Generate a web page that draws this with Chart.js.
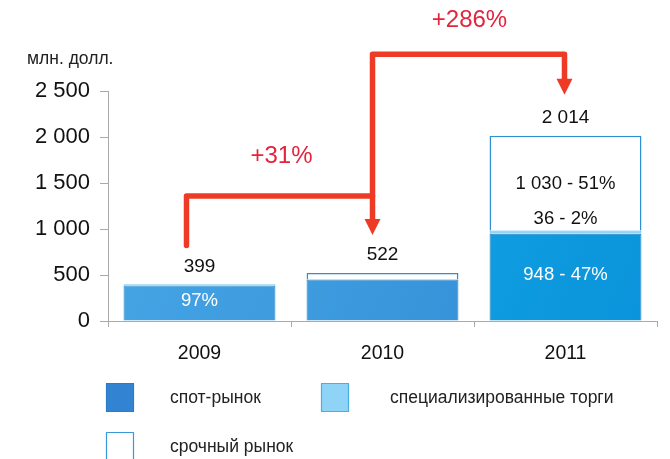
<!DOCTYPE html>
<html>
<head>
<meta charset="utf-8">
<script src="https://cdn.jsdelivr.net/npm/chart.js@4"></script>
<style>
  body { margin: 0; background: #fff; }
  #wrap { width: 670px; height: 459px; position: relative; }
</style>
</head>
<body>
<div id="wrap"><canvas id="chart" width="670" height="459"></canvas></div>
<script>
const years = ["2009", "2010", "2011"];
const spot = [387, 450, 948];
const specialized = [12, 0, 36];
const futures = [0, 72, 1030];
const totals = [399, 522, 2014];
const spotLabels = ["97%", "", "948 - 47%"];
const specLabels = ["", "", "36 - 2%"];
const futLabels = ["", "", "1 030 - 51%"];
const growth = ["+31%", "+286%"];
const yTicks = [0, 500, 1000, 1500, 2000, 2500];
const seriesNames = ["спот-рынок", "специализированные торги", "срочный рынок"];

const font = "'Liberation Sans', Arial, sans-serif";
const fmt = (n) => String(n).replace(/\B(?=(\d{3})+(?!\d))/g, " ");

function spotFill(context) {
  const chart = context.chart;
  const area = chart.chartArea;
  if (!area) return "#3594da";
  const i = context.dataIndex;
  const g = chart.ctx.createLinearGradient(area.left, area.top, area.right, area.bottom);
  if (i === 2) {
    g.addColorStop(0, "#1bb0ec");
    g.addColorStop(1, "#0a93da");
  } else {
    g.addColorStop(0, "#48a8e6");
    g.addColorStop(1, "#2f8ad4");
  }
  return g;
}

const overlay = {
  id: "overlay",
  afterDraw(chart) {
    const ctx = chart.ctx;
    const x = chart.scales.x;
    const y = chart.scales.y;
    ctx.save();
    ctx.textAlign = "center";
    ctx.textBaseline = "middle";

    // totals above bars
    ctx.font = "19px " + font;
    ctx.fillStyle = "#111";
    totals.forEach((t, i) => {
      ctx.fillText(fmt(t), x.getPixelForValue(i), y.getPixelForValue(t) - 18);
    });

    // segment labels
    const m0 = chart.getDatasetMeta(0).data;
    const m1 = chart.getDatasetMeta(1).data;
    const m2 = chart.getDatasetMeta(2).data;
    ctx.font = "18.5px " + font;
    ctx.fillStyle = "#fff";
    spotLabels.forEach((s, i) => {
      if (!s) return;
      const b = m0[i];
      ctx.fillText(s, b.x, (b.y + b.base) / 2 - 2);
    });
    ctx.fillStyle = "#111";
    specLabels.forEach((s, i) => {
      if (!s) return;
      ctx.fillText(s, m1[i].x, m1[i].y - 12);
    });
    futLabels.forEach((s, i) => {
      if (!s) return;
      const b = m2[i];
      ctx.fillText(s, b.x, (b.y + b.base) / 2 + 1);
    });

    // growth arrows
    ctx.strokeStyle = "#ee3b26";
    ctx.fillStyle = "#ee3b26";
    ctx.lineWidth = 5.5;
    ctx.lineJoin = "round";
    ctx.lineCap = "round";
    const x0 = x.getPixelForValue(0) - 13;
    const x1 = x.getPixelForValue(1) - 10;
    const x2 = x.getPixelForValue(2) - 1;
    const yLow = y.getPixelForValue(1360);
    const yHigh = y.getPixelForValue(2900);
    const arrow = (pts, tipY) => {
      ctx.beginPath();
      ctx.moveTo(pts[0][0], pts[0][1]);
      pts.slice(1).forEach((p) => ctx.lineTo(p[0], p[1]));
      ctx.stroke();
      const ax = pts[pts.length - 1][0];
      ctx.beginPath();
      ctx.moveTo(ax - 8, tipY - 16);
      ctx.lineTo(ax + 8, tipY - 16);
      ctx.lineTo(ax, tipY);
      ctx.closePath();
      ctx.fill();
    };
    arrow([[x0, y.getPixelForValue(820)], [x0, yLow], [x1, yLow], [x1, y.getPixelForValue(1030)]], y.getPixelForValue(935));
    arrow([[x1, yLow], [x1, yHigh], [x2, yHigh], [x2, y.getPixelForValue(2540)]], y.getPixelForValue(2460));

    ctx.font = "24px " + font;
    ctx.fillStyle = "#e3243d";
    ctx.fillText(growth[0], (x0 + x1) / 2 + 2, yLow - 40);
    ctx.fillText(growth[1], (x1 + x2) / 2 + 1, yHigh - 34);

    // unit label
    ctx.font = "17.5px " + font;
    ctx.fillStyle = "#222";
    ctx.textAlign = "left";
    ctx.fillText("млн. долл.", 27, 59);

    // legend
    const items = [
      { x: 106, y: 383, fill: "#3283d2", border: "#2a7cc8" },
      { x: 321, y: 383, fill: "#8fd4f6", border: "#4aaee6" },
      { x: 106, y: 432, fill: "#ffffff", border: "#3a97d8" },
    ];
    const textX = [170, 390, 170];
    ctx.font = "17.5px " + font;
    items.forEach((it, i) => {
      ctx.fillStyle = it.fill;
      ctx.fillRect(it.x, it.y, 28, 29);
      ctx.lineWidth = 1.2;
      ctx.strokeStyle = it.border;
      ctx.strokeRect(it.x + 0.5, it.y + 0.5, 27, 28);
      ctx.fillStyle = "#222";
      ctx.fillText(seriesNames[i], textX[i], it.y + 15);
    });
    ctx.restore();
  },
};

new Chart(document.getElementById("chart"), {
  type: "bar",
  data: {
    labels: years,
    datasets: [
      {
        label: seriesNames[0],
        data: spot,
        backgroundColor: spotFill,
        borderColor: "#1f7fc4",
        borderWidth: 1,
      },
      {
        label: seriesNames[1],
        data: specialized,
        backgroundColor: "#8fd4f6",
        borderColor: "#5ab8ea",
        borderWidth: 1,
      },
      {
        label: seriesNames[2],
        data: futures,
        backgroundColor: "#ffffff",
        borderColor: "#2f8fd4",
        borderWidth: 1.5,
      },
    ],
  },
  options: {
    responsive: false,
    animation: false,
    barPercentage: 0.83,
    categoryPercentage: 1,
    layout: { padding: { top: 91, right: 13, left: 0, bottom: 0 } },
    plugins: { legend: { display: false }, tooltip: { enabled: false } },
    scales: {
      x: {
        stacked: true,
        afterFit: (s) => { s.height = 138; },
        grid: { offset: true, drawOnChartArea: false, tickLength: 6, color: "#aaa" },
        border: { color: "#aaa" },
        ticks: { font: { family: font, size: 19.5 }, color: "#111", padding: 15 },
      },
      y: {
        stacked: true,
        min: 0,
        max: 2500,
        afterFit: (s) => { s.width = 108; },
        afterBuildTicks: (s) => { s.ticks = yTicks.map((v) => ({ value: v })); },
        grid: { drawOnChartArea: false, tickLength: 8, color: "#aaa" },
        border: { color: "#aaa" },
        ticks: {
          font: { family: font, size: 22 },
          color: "#111",
          padding: 10,
          callback: (v) => fmt(v),
        },
      },
    },
  },
  plugins: [overlay],
});
</script>
</body>
</html>
